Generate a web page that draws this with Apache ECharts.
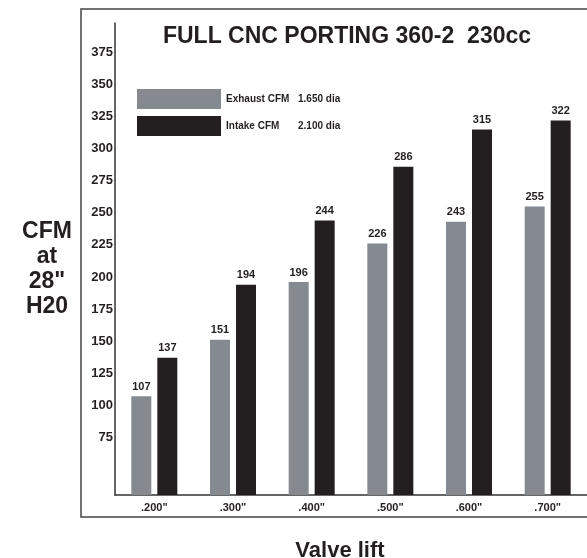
<!DOCTYPE html>
<html>
<head>
<meta charset="utf-8">
<script src="https://cdn.jsdelivr.net/npm/echarts@6/dist/echarts.min.js"></script>
<style>html,body{margin:0;padding:0;background:#fff;}#c{width:587px;height:558px;}</style>
</head>
<body>
<div id="c"></div>
<script>
var categories = ['.200"', '.300"', '.400"', '.500"', '.600"', '.700"'];
var exhaustCFM = [107, 151, 196, 226, 243, 255];
var intakeCFM = [137, 194, 244, 286, 315, 322];
var yTickLabels = [75, 100, 125, 150, 175, 200, 225, 250, 275, 300, 325, 350, 375];
var legendDia = { 'Exhaust CFM': '1.650 dia', 'Intake CFM': '2.100 dia' };

var FONT = '"Liberation Sans", Arial, sans-serif';
var INK = '#231f20';
var chart = echarts.init(document.getElementById('c'));
chart.setOption({
  backgroundColor: '#fff',
  animation: false,
  graphic: [{
    type: 'rect', z: -1,
    shape: { x: 81, y: 9, width: 520, height: 508 },
    style: { fill: 'none', stroke: '#444', lineWidth: 1.5 }
  }],
  title: [{
    text: 'FULL CNC PORTING 360-2  230cc',
    left: 342, top: 20, textAlign: 'center',
    textStyle: { fontFamily: FONT, fontWeight: 'bold', fontSize: 23, color: INK }
  }, {
    text: 'CFM\nat\n28"\nH20',
    left: 42, top: 214, textAlign: 'center',
    textStyle: { fontFamily: FONT, fontWeight: 'bold', fontSize: 23, lineHeight: 25, color: INK, align: 'center' }
  }, {
    text: 'Valve lift',
    left: 335, top: 535, textAlign: 'center',
    textStyle: { fontFamily: FONT, fontWeight: 'bold', fontSize: 22, color: INK }
  }],
  legend: {
    orient: 'vertical', left: 137, top: 89, padding: 0,
    itemWidth: 84, itemHeight: 20, itemGap: 7,
    icon: 'rect',
    data: ['Exhaust CFM', 'Intake CFM'],
    formatter: function (n) { return '{a|' + n + '}{b|' + legendDia[n] + '}'; },
    textStyle: {
      fontFamily: FONT, fontSize: 10, fontWeight: 'bold', color: INK,
      rich: {
        a: { fontFamily: FONT, fontSize: 10, fontWeight: 'bold', color: INK, width: 72 },
        b: { fontFamily: FONT, fontSize: 10, fontWeight: 'bold', color: INK }
      }
    }
  },
  grid: { left: 115, right: 0, top: 23, bottom: 63, containLabel: false },
  xAxis: {
    type: 'category', data: categories,
    axisTick: { show: false },
    axisLine: { lineStyle: { color: '#333', width: 1.5 } },
    axisLabel: { fontFamily: FONT, fontWeight: 'bold', fontSize: 11, color: INK, margin: 7 }
  },
  yAxis: {
    type: 'value', min: 30, max: 398,
    splitLine: { show: false },
    axisTick: { show: false },
    axisLine: { show: true, lineStyle: { color: '#333', width: 1.5 } },
    axisLabel: { customValues: yTickLabels, fontFamily: FONT, fontWeight: 'bold', fontSize: 13, color: INK, margin: 2 }
  },
  series: [{
    name: 'Exhaust CFM', type: 'bar', data: exhaustCFM,
    barWidth: 20, barGap: '30%',
    itemStyle: { color: '#848a90' },
    label: { show: true, position: 'top', distance: 4, fontFamily: FONT, fontWeight: 'bold', fontSize: 11, color: INK }
  }, {
    name: 'Intake CFM', type: 'bar', data: intakeCFM,
    barWidth: 20,
    itemStyle: { color: INK },
    label: { show: true, position: 'top', distance: 4, fontFamily: FONT, fontWeight: 'bold', fontSize: 11, color: INK }
  }]
});
</script>
</body>
</html>
